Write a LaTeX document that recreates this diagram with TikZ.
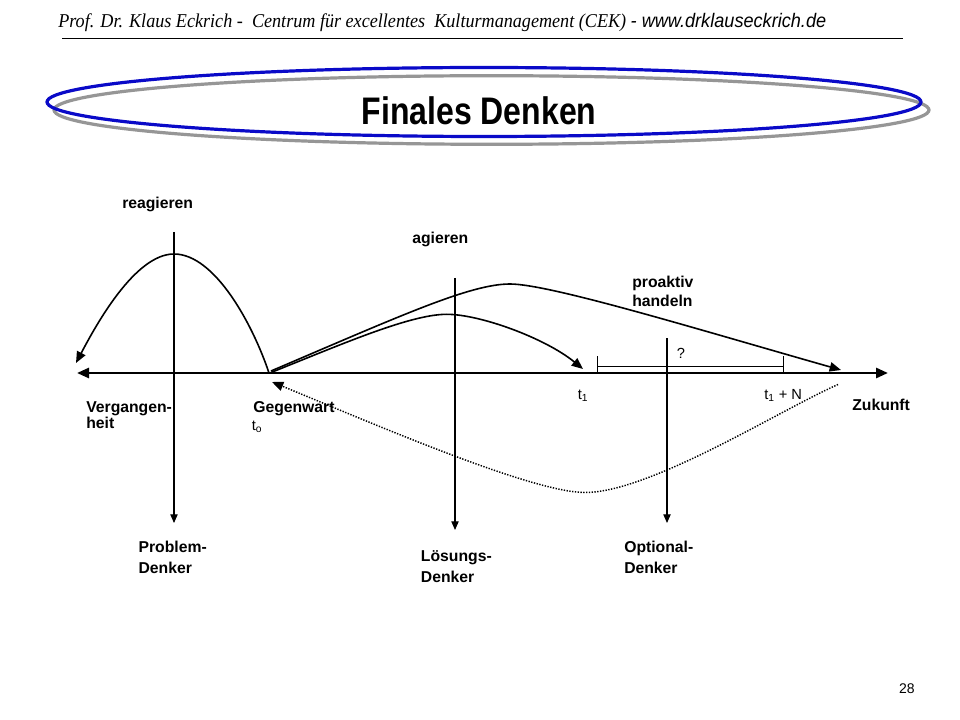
\documentclass[tikz,border=0pt]{standalone}
\usepackage{graphicx}
\usepackage{fontspec}
\setmainfont{Liberation Serif}
\setsansfont{Liberation Sans}
\usetikzlibrary{arrows.meta}
\definecolor{ellblue}{RGB}{10,10,200}
\definecolor{ellgray}{RGB}{150,150,150}
\begin{document}
\begin{tikzpicture}[x=0.75pt,y=-0.75pt,
  lbl/.style={font=\sffamily\bfseries\fontsize{11.8}{14}\selectfont, inner sep=0pt, anchor=base west},
  tl/.style={font=\sffamily\fontsize{11}{13}\selectfont, inner sep=0pt, anchor=base west},
  vline/.style={line width=0.8pt, -{Triangle[length=6.5pt,width=5.5pt]}},
  curvearrow/.style={line width=1.2pt, -{Triangle[length=8.5pt,width=7pt]}},
  axisline/.style={line width=2pt, {Triangle[length=9pt,width=7.5pt]}-{Triangle[length=9pt,width=7.5pt]}},
  thinline/.style={line width=0.75pt},
  dottedarrow/.style={line width=1.1pt, dash pattern=on 1pt off 1.1pt, -{Triangle[length=8.5pt,width=7pt]}}
]
\useasboundingbox (0,0) rectangle (960,720);
\fill[white] (0,0) rectangle (960,720);

% header
\node[anchor=base west, inner sep=0pt, font=\fontsize{13.6}{16}\selectfont] (hdr) at (58,28)
  {\scalebox{1}[1.08]{\itshape Prof. Dr. Klaus Eckrich -\ \ Centrum für excellentes\ \ Kulturmanagement (CEK) {\sffamily - www.drklauseckrich.de}}};
\coordinate (hl) at (62,39);
\coordinate (hr) at (903,39);
\draw[thinline] (hl) -- (hr);

% title ellipses
\draw[ellgray, line width=2.4pt] (491.5,110) ellipse [x radius=437.5, y radius=34.3];
\draw[ellblue, line width=2.4pt] (484,102) ellipse [x radius=437, y radius=34.5];
\node[anchor=base, inner sep=0pt, font=\sffamily\bfseries\fontsize{24}{28}\selectfont] (title) at (479,125)
  {\scalebox{1}[1.2]{Finales Denken}};

% axis
\coordinate (axL) at (77,373);
\coordinate (axR) at (888,373);
\draw[axisline] (axL) -- (axR);

% vertical lines
\coordinate (p1t) at (174,232); \coordinate (p1b) at (174,523);
\coordinate (p2t) at (455,278); \coordinate (p2b) at (455,530);
\coordinate (p3t) at (667,338); \coordinate (p3b) at (667,523);
\draw[vline] (p1t) -- (p1b);
\draw[vline] (p2t) -- (p2b);
\draw[vline] (p3t) -- (p3b);

% bracket
\coordinate (bl1) at (597,373); \coordinate (bl2) at (597,356);
\coordinate (br1) at (783,373); \coordinate (br2) at (783,356);
\coordinate (bm1) at (597,366); \coordinate (bm2) at (783,366);
\draw[thinline] (bl1) -- (bl2);
\draw[thinline] (br1) -- (br2);
\draw[thinline] (bm1) -- (bm2);

% key points
\coordinate (G) at (269,373);
\coordinate (Gu) at (271,371);
\coordinate (Gl) at (271,372.5);
\coordinate (reagtop) at (174,254);
\coordinate (reagend) at (76,363);
\coordinate (lowtop) at (446.7,314.3);
\coordinate (lowend) at (583,369);
\coordinate (uptop) at (510,284);
\coordinate (upend) at (841,370);
\coordinate (dotstart) at (838,384.5);
\coordinate (dotmin) at (585,492.5);
\coordinate (dotend) at (272,382);

% reagieren curve
\draw[curvearrow] (G) .. controls (253,325) and (215,254) .. (reagtop)
  .. controls (135,254) and (96,325) .. (reagend);

% agieren (lower) curve
\draw[curvearrow] (Gl) .. controls (340,345) and (410,314.3) .. (lowtop)
  .. controls (480,314.3) and (545,338) .. (lowend);

% proaktiv (upper) curve
\draw[curvearrow] (Gu) .. controls (400,316) and (470,284) .. (uptop)
  .. controls (550,284) and (700,330) .. (upend);

% dotted curve
\draw[dottedarrow] (dotstart) .. controls (780,410) and (650,492.5) .. (dotmin)
  .. controls (530,492.5) and (360,418) .. (dotend);

% labels
\node[lbl] (reag) at (122,209) {reagieren};
\node[lbl] (agier) at (412,244) {agieren};
\node[lbl] (proak1) at (632,287) {proaktiv};
\node[lbl] (proak2) at (632,306.5) {handeln};
\node[lbl] (verg1) at (86,412.7) {Vergangen-};
\node[lbl] (verg2) at (86,428.5) {heit};
\node[lbl] (gegen) at (253,412.7) {Gegenwart};
\node[tl] (t0) at (251.5,430) {t\textsubscript{o}};
\node[lbl] (zuk) at (852,410) {Zukunft};
\node[tl] (t1) at (577.5,399.3) {t\textsubscript{1}};
\node[tl] (t1n) at (764,399.3) {t\textsubscript{1} + N};
\node[tl] (qm) at (676.5,358.3) {?};
\node[lbl] (prob1) at (138.3,552.3) {Problem-};
\node[lbl] (prob2) at (138.3,573.3) {Denker};
\node[lbl] (loes1) at (420.7,561.7) {Lösungs-};
\node[lbl] (loes2) at (420.7,582.7) {Denker};
\node[lbl] (opt1) at (624,552.3) {Optional-};
\node[lbl] (opt2) at (624,573.3) {Denker};

% page number
\node[anchor=base east, inner sep=0pt, font=\sffamily\fontsize{10.5}{12}\selectfont] (pg) at (915,693) {28};
\end{tikzpicture}
\end{document}
